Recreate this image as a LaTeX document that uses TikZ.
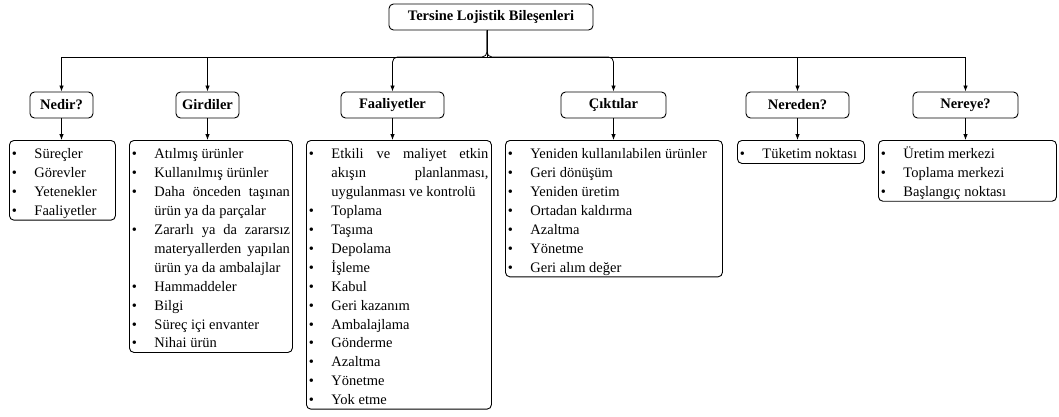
\documentclass[tikz,border=0pt]{standalone}
\usepackage{fontspec}
\setmainfont{Liberation Serif}
\usetikzlibrary{arrows.meta}

% bullet item, continuation line, justified line (#1 = width);
% the font's own interword glue is restored so that spaces can stretch
\newcommand\lsstrut{\spaceskip=0pt\xspaceskip=0pt\rule[-4.45pt]{0pt}{18.9pt}}
\newcommand\topgap{\rule{0pt}{18.45pt}}
\newcommand\bl[1]{\lsstrut\makebox[22.5pt][l]{\textbullet}#1}
\newcommand\cl[1]{\lsstrut\hspace*{22.5pt}#1}
\newcommand\jl[2]{\makebox[#1][s]{#2}}

\tikzset{
  boxline/.style={draw=black, line width=0.9pt, rounded corners=4.5pt},
  grp/.style={boxline, minimum height=26pt, inner sep=0pt,
    font=\fontsize{14.5}{17}\selectfont\bfseries},
  lst/.style={boxline, anchor=north west, inner xsep=2.5pt, inner ysep=0.05pt,
    align=left, font=\fontsize{14.5}{18.9}\selectfont},
  arr/.style={draw=black, line width=0.8pt, -{Latex[length=6pt,width=4.5pt]}},
}

\begin{document}
\begin{tikzpicture}[x=1pt, y=-1pt]
\useasboundingbox (0,0) rectangle (1059,416);

% root
\node[grp, minimum width=204pt] (root) at (491,17) {Tersine Lojistik Bileşenleri};

% second level
\node[grp, minimum width=63pt]  (nedir)  at (61.5,105)  {Nedir?};
\node[grp, minimum width=63pt]  (girdi)  at (207.5,105) {Girdiler};
\node[grp, minimum width=103pt] (faal)   at (392.5,105) {Faaliyetler};
\node[grp, minimum width=105pt] (cikti)  at (613.5,105) {Çıktılar};
\node[grp, minimum width=103pt] (nereden) at (797.5,105) {Nereden?};
\node[grp, minimum width=105pt] (nereye) at (965.5,105) {Nereye?};

% lists
\node[lst, text width=101pt] (lnedir) at (9,140) {%
\topgap\bl{Süreçler}\\
\bl{Görevler}\\
\bl{Yetenekler}\\
\bl{Faaliyetler}};

\node[lst, text width=158pt] (lgirdi) at (129,140) {%
\topgap\bl{Atılmış ürünler}\\
\bl{Kullanılmış ürünler}\\
\bl{\jl{135.5pt}{Daha önceden taşınan}}\\
\cl{ürün ya da parçalar}\\
\bl{\jl{135.5pt}{Zararlı ya da zararsız}}\\
\cl{\jl{135.5pt}{materyallerden yapılan}}\\
\cl{ürün ya da ambalajlar}\\
\bl{Hammaddeler}\\
\bl{Bilgi}\\
\bl{Süreç içi envanter}\\
\bl{Nihai ürün}};

\node[lst, text width=180pt] (lfaal) at (306,140) {%
\topgap\bl{\jl{157pt}{Etkili ve maliyet etkin}}\\
\cl{\jl{157pt}{akışın planlanması,}}\\
\cl{uygulanması ve kontrolü}\\
\bl{Toplama}\\
\bl{Taşıma}\\
\bl{Depolama}\\
\bl{İşleme}\\
\bl{Kabul}\\
\bl{Geri kazanım}\\
\bl{Ambalajlama}\\
\bl{Gönderme}\\
\bl{Azaltma}\\
\bl{Yönetme}\\
\bl{Yok etme}};

\node[lst, text width=212pt] (lcikti) at (505,140) {%
\topgap\bl{Yeniden kullanılabilen ürünler}\\
\bl{Geri dönüşüm}\\
\bl{Yeniden üretim}\\
\bl{Ortadan kaldırma}\\
\bl{Azaltma}\\
\bl{Yönetme}\\
\bl{Geri alım değer}};

\node[lst, text width=122pt] (lnereden) at (737,140) {%
\topgap\bl{Tüketim noktası}};

\node[lst, text width=173pt] (lnereye) at (878,140) {%
\topgap\bl{Üretim merkezi}\\
\bl{Toplama merkezi}\\
\bl{Başlangıç noktası}};

% connectors from the root
\coordinate (hub) at (487,57);
\draw[line width=0.8pt] (root.south -| hub) -- (hub);
\draw[arr] (hub) -| (nedir.north);
\draw[arr] (hub) -| (girdi.north);
\draw[arr, rounded corners=5pt] (root.south -| hub) -- (hub) -| (faal.north);
\draw[arr, rounded corners=5pt] (root.south -| hub) -- (hub) -| (cikti.north);
\draw[arr] (hub) -| (nereden.north);
\draw[arr] (hub) -| (nereye.north);

% connectors to the lists
\draw[arr] (nedir.south) -- (nedir.south |- lnedir.north);
\draw[arr] (girdi.south) -- (girdi.south |- lgirdi.north);
\draw[arr] (faal.south) -- (faal.south |- lfaal.north);
\draw[arr] (cikti.south) -- (cikti.south |- lcikti.north);
\draw[arr] (nereden.south) -- (nereden.south |- lnereden.north);
\draw[arr] (nereye.south) -- (nereye.south |- lnereye.north);
\end{tikzpicture}
\end{document}
